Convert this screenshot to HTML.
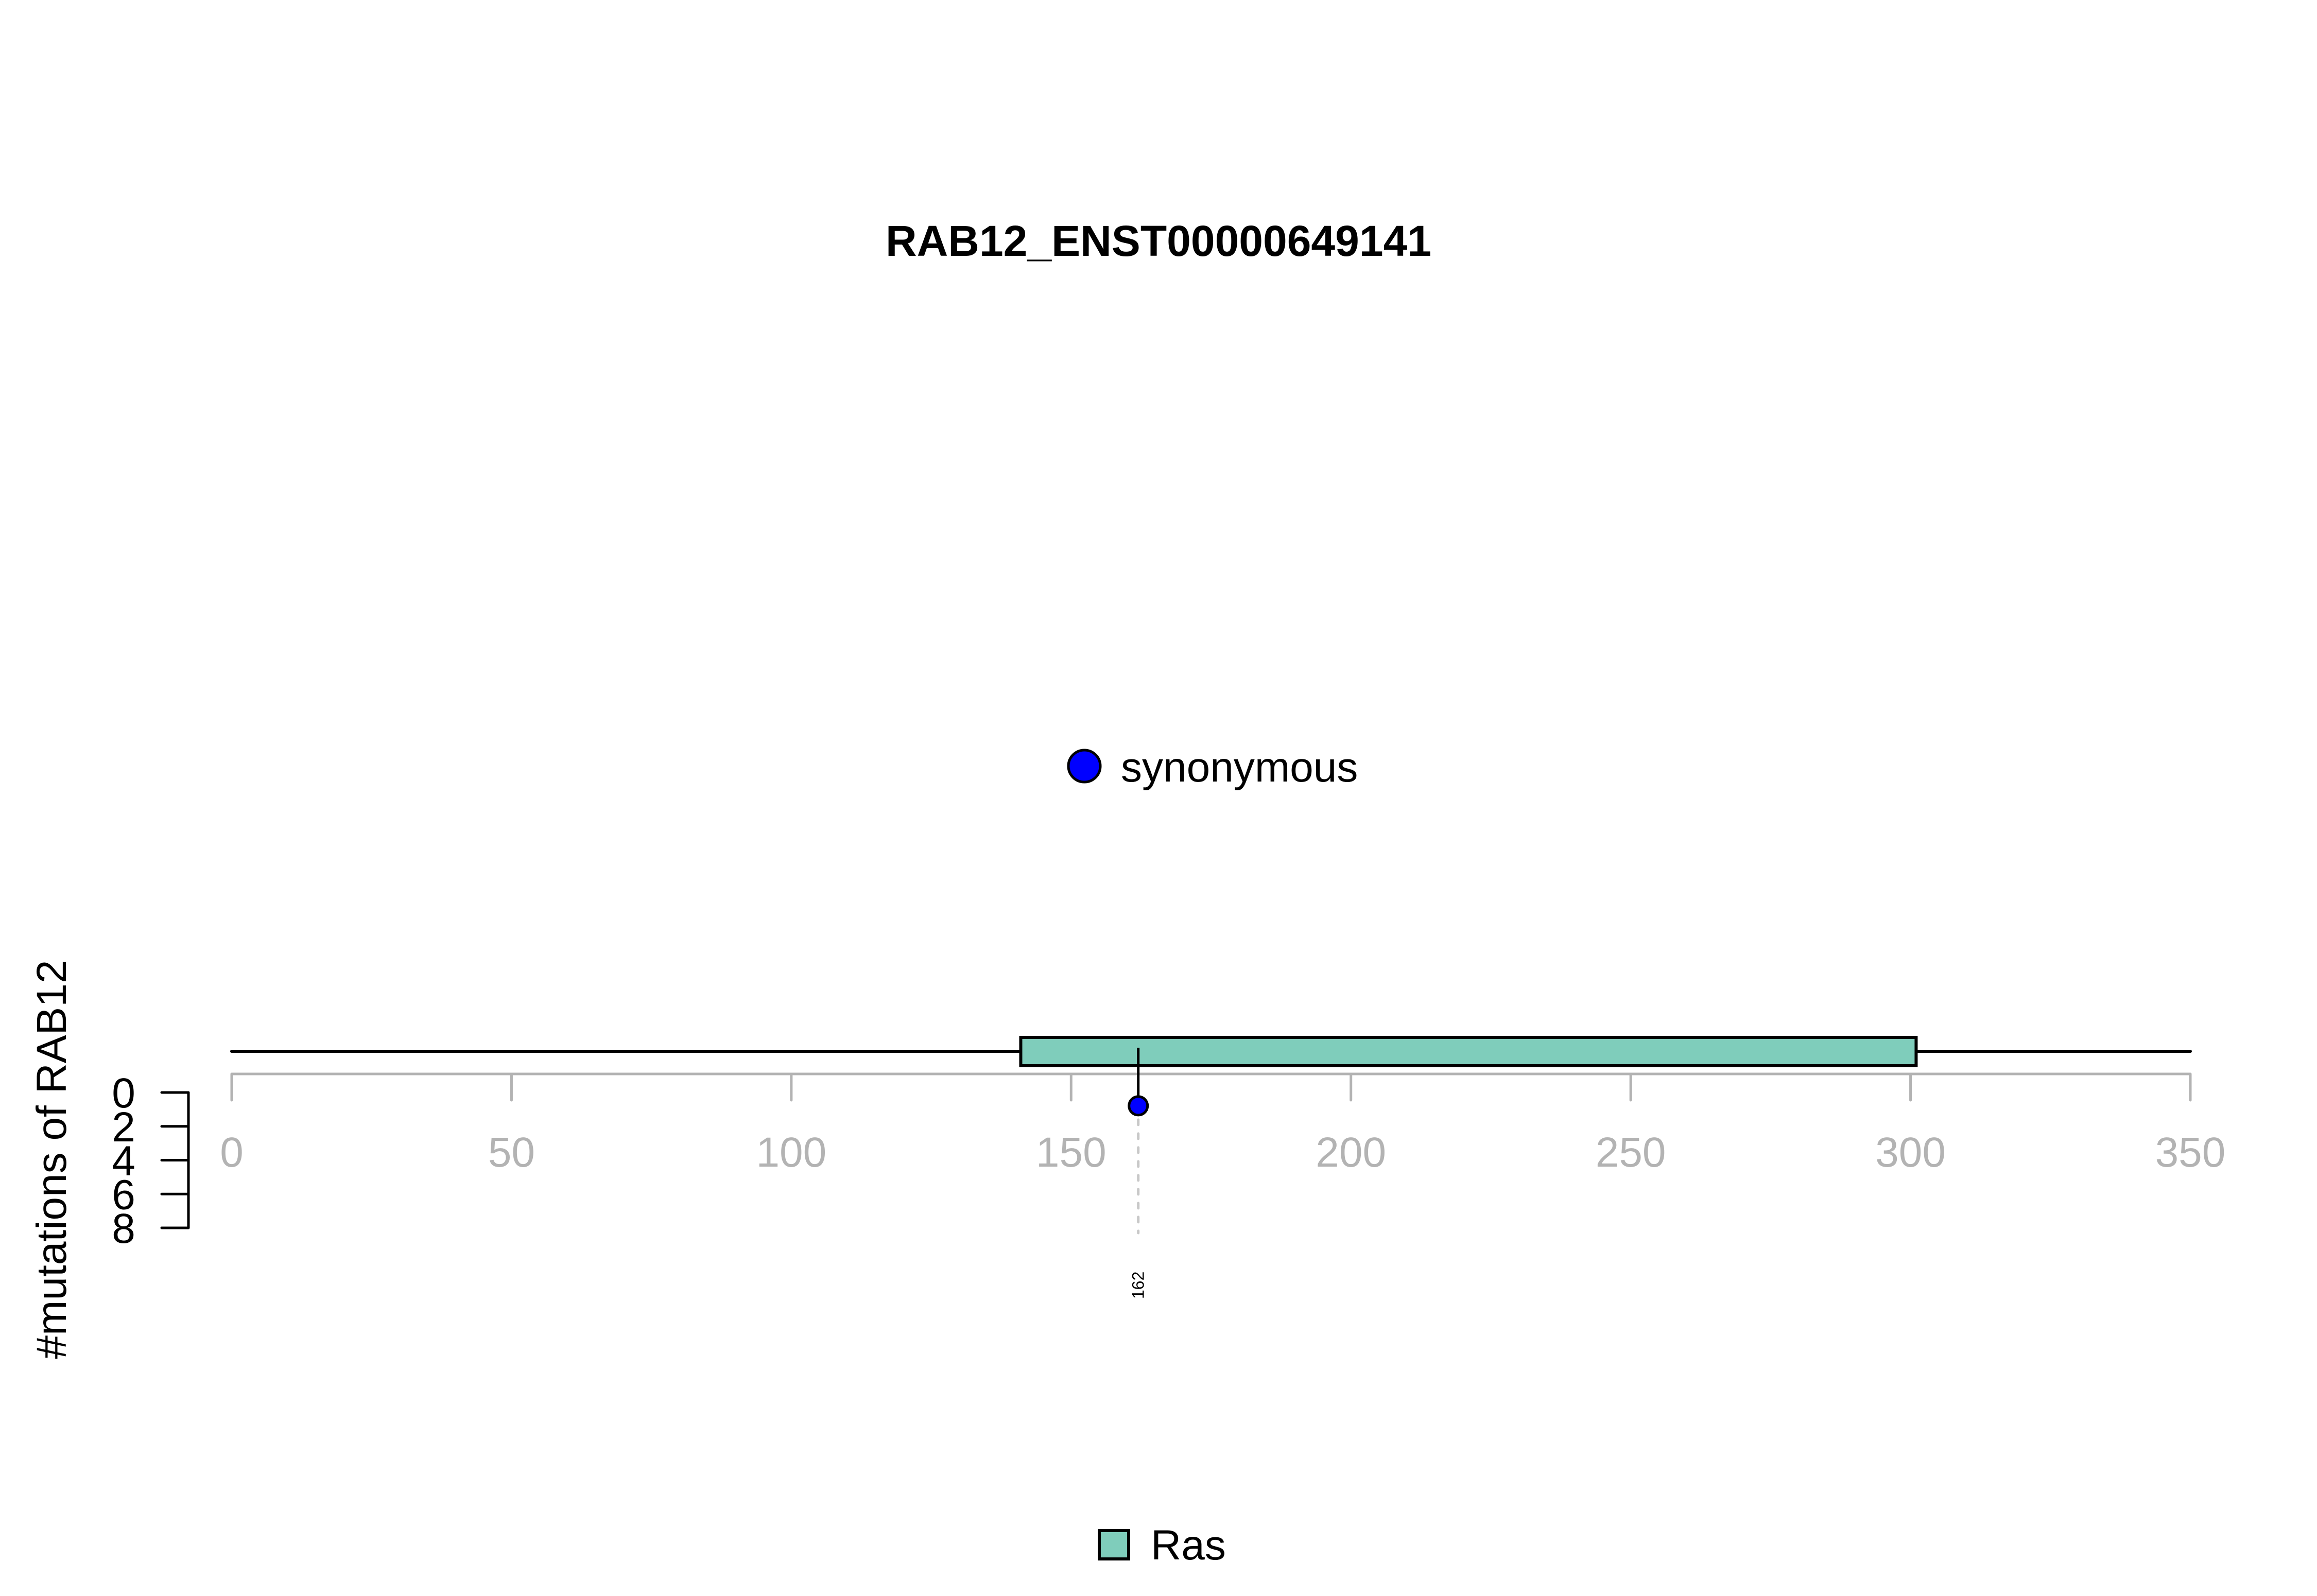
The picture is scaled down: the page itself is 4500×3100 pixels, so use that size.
<!DOCTYPE html>
<html><head><meta charset="utf-8"><style>html,body{margin:0;padding:0;background:#fff}svg{display:block}</style></head>
<body>
<svg id="chart" xmlns="http://www.w3.org/2000/svg" width="4500" height="3100" viewBox="0 0 4500 3100" font-family="Liberation Sans, Arial, sans-serif">
<rect width="4500" height="3100" fill="#fff"/>
<text x="2250" y="497" font-size="84" font-weight="bold" text-anchor="middle">RAB12_ENST00000649141</text>
<g>
<circle cx="2106" cy="1488" r="31" fill="#0000ff" stroke="#000" stroke-width="5"/>
<text x="2177" y="1518" font-size="82">synonymous</text>
</g>
<g id="plot"></g>
<text transform="translate(128,2252) rotate(-90)" font-size="82" text-anchor="middle">#mutations of RAB12</text>
<g>
<rect x="2135" y="2973" width="57" height="55" fill="#7fcdbb" stroke="#000" stroke-width="6"/>
<text x="2235" y="3029" font-size="82">Ras</text>
</g>
</svg>
<script>
const xTicks = [0, 50, 100, 150, 200, 250, 300, 350];
const proteinLength = 350;
const domainNames = ["Ras"];
const domainStarts = [141];
const domainEnds = [301];
const mutPositions = [162];
const mutCounts = [1];
const yTicks = [0, 2, 4, 6, 8];

const NS = "http://www.w3.org/2000/svg";
const g = document.getElementById("plot");
const X0 = 450, X1 = 4254;
const xs = v => X0 + (v / 350) * (X1 - X0);
const Y0 = 2122, Y8 = 2385;
const ys = v => Y0 + (v / 8) * (Y8 - Y0);
function mk(tag, attrs) { const e = document.createElementNS(NS, tag); for (const k in attrs) e.setAttribute(k, attrs[k]); g.appendChild(e); return e; }

// x axis
let e = mk("line", {x1: xs(0), x2: xs(350), y1: 2086, y2: 2086, stroke: "#b3b3b3", "stroke-width": 5});


xTicks.forEach(t => {
  const l = mk("line", {x1: xs(t), x2: xs(t), y1: 2086, y2: 2137, stroke: "#b3b3b3", "stroke-width": 5, "stroke-linecap": "round"});
  
  
  const tx = mk("text", {x: xs(t), y: 2266, "font-size": 82, fill: "#b3b3b3", "text-anchor": "middle"});
  tx.textContent = t;
  
  
});

// backbone
e = mk("line", {x1: xs(0), x2: xs(proteinLength), y1: 2042, y2: 2042, stroke: "#000", "stroke-width": 6, "stroke-linecap": "round"});



// domains
domainStarts.forEach((s, i) => {
  const r = mk("rect", {x: xs(s), y: 2015, width: xs(domainEnds[i]) - xs(s), height: 55, fill: "#7fcdbb", stroke: "#000", "stroke-width": 6});
  
  
});

// y axis
e = mk("line", {x1: 366, x2: 366, y1: ys(0), y2: ys(8), stroke: "#000", "stroke-width": 5});


yTicks.forEach(t => {
  const l = mk("line", {x1: 314, x2: 366, y1: ys(t), y2: ys(t), stroke: "#000", "stroke-width": 5, "stroke-linecap": "round"});
  
  
  const tx = mk("text", {x: 240, y: ys(t) + 29, "font-size": 82, "text-anchor": "middle"});
  tx.textContent = t;
  
  
});

// mutations
mutPositions.forEach((p, i) => {
  const cx = xs(p), cy = ys(mutCounts[i]) - 7;
  const d = mk("line", {x1: cx, x2: cx, y1: cy, y2: 2395, stroke: "#c8c8c8", "stroke-width": 5, "stroke-dasharray": "10 17", "stroke-linecap": "round"});
  
  
  const s = mk("line", {x1: cx, x2: cx, y1: 2035, y2: cy, stroke: "#000", "stroke-width": 5});
  
  
  const c = mk("circle", {cx: cx, cy: cy, r: 18, fill: "#0000ff", stroke: "#000", "stroke-width": 5});
  
  
  const tx = mk("text", {transform: `translate(${cx + 11},2523) rotate(-90)`, "font-size": 32});
  tx.textContent = p;
  
  
});
</script>
</body></html>
